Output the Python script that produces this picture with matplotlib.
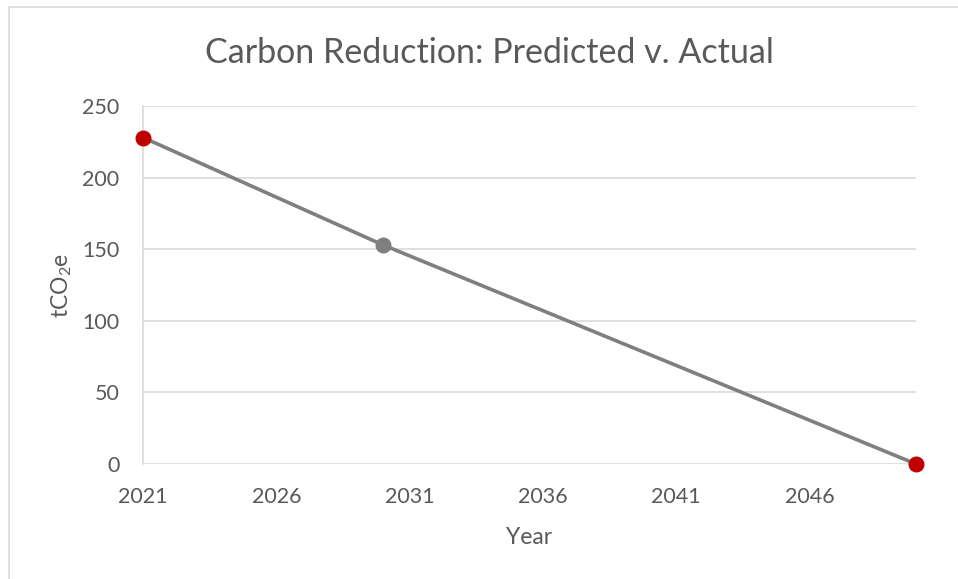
import matplotlib.pyplot as plt
from matplotlib.patches import Rectangle

years = [2021, 2030, 2050]
tco2e = [228, 153, 0]
point_colors = ['#c00000', '#7f7f7f', '#c00000']
x_ticks = [2021, 2026, 2031, 2036, 2041, 2046]
y_ticks = [0, 50, 100, 150, 200, 250]

plt.rcParams['font.family'] = ['Lato', 'DejaVu Sans']
plt.rcParams['mathtext.fontset'] = 'custom'
plt.rcParams['mathtext.rm'] = 'Lato'
plt.rcParams['mathtext.it'] = 'Lato'

text_col = '#595959'
fig = plt.figure(figsize=(9.58, 5.79), dpi=100)
ax = fig.add_axes([143 / 958, 1 - 464 / 579, (916 - 143) / 958, (464 - 106) / 579])

# outer chart border (only left and top edges visible)
fig.patches.append(Rectangle((9 / 958, -0.1), 1.2, 1.1 - 7 / 579, transform=fig.transFigure,
                             fill=False, edgecolor='#d9d9d9', linewidth=1.2))

ax.plot(years, tco2e, color='#7f7f7f', linewidth=2.6, zorder=3, clip_on=False)
for x, y, c in zip(years, tco2e, point_colors):
    ax.plot(x, y, 'o', color=c, markersize=10.5, zorder=4, clip_on=False)

ax.set_xlim(2021, 2050)
ax.set_ylim(0, 250)
ax.set_xticks(x_ticks)
ax.set_yticks(y_ticks)
ax.grid(axis='y', color='#d9d9d9', linewidth=1.2)
ax.set_axisbelow(True)
for s in ['top', 'right', 'bottom']:
    ax.spines[s].set_visible(False)
ax.spines['left'].set_color('#d9d9d9')
ax.spines['left'].set_linewidth(1.2)
ax.tick_params(length=0, labelsize=15.5, colors=text_col)
ax.tick_params(axis='y', pad=17)
ax.tick_params(axis='x', pad=16.5)

fig.text(489 / 958, 1 - 63 / 579, 'Carbon Reduction: Predicted v. Actual', fontsize=24.5,
         color=text_col, ha='center', va='baseline')
ax.set_xlabel('Year', fontsize=16.5, color=text_col, labelpad=14.5)
ax.set_ylabel(r'tCO$_2$e', fontsize=16.5, color=text_col, labelpad=6)

fig.savefig('out.png', dpi=100)
